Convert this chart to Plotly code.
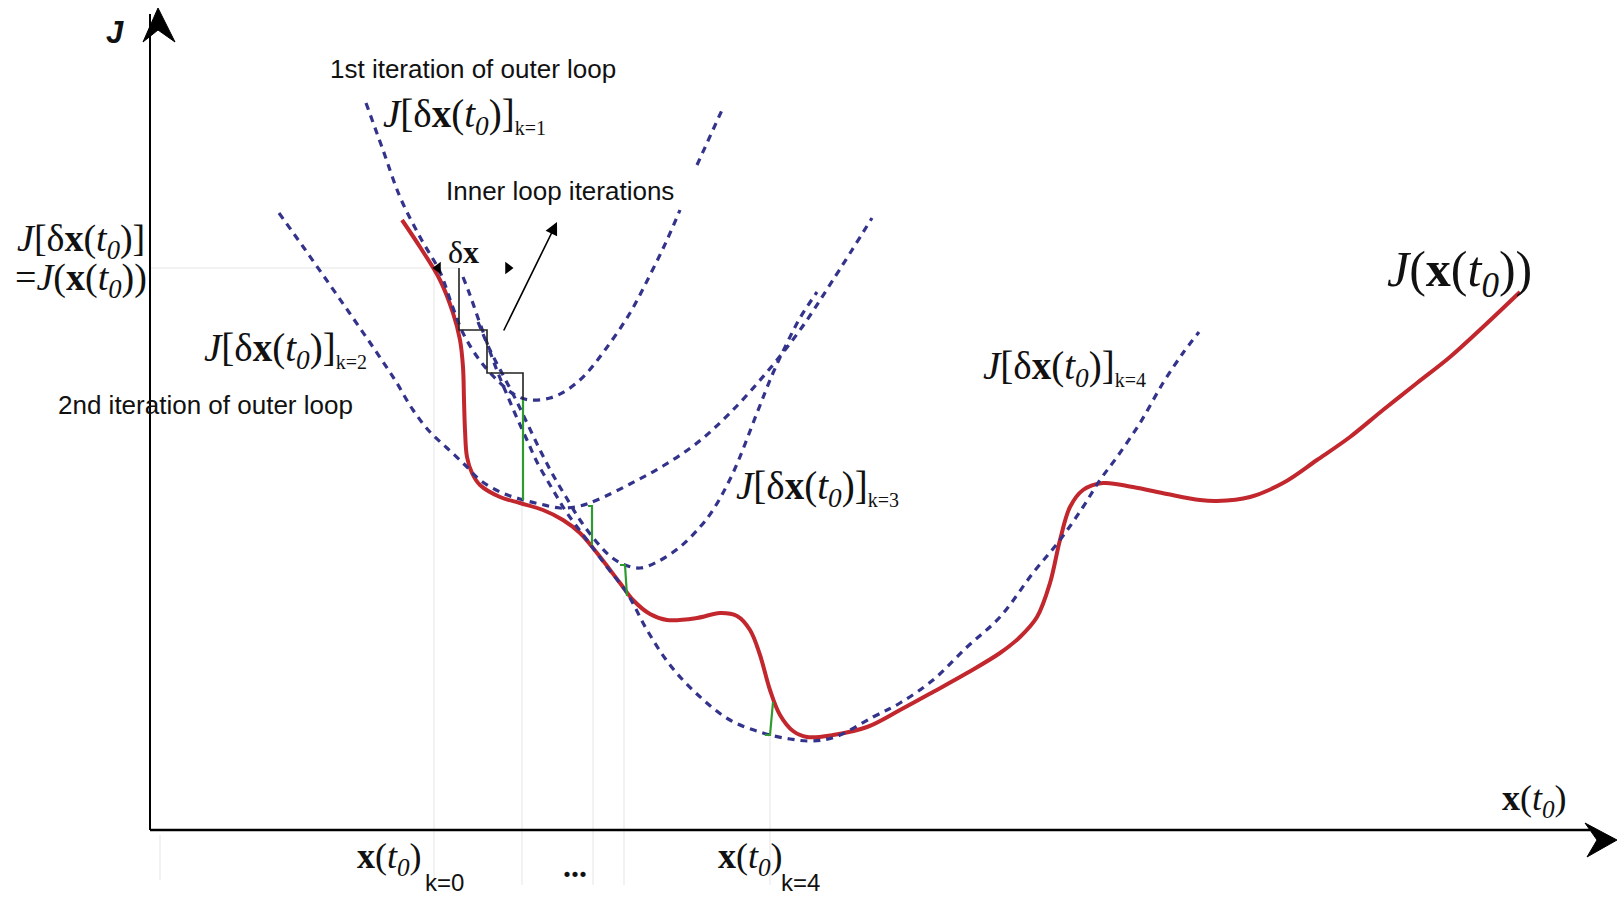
import plotly.graph_objects as go

# ---------------- data (diagram units: x = x(t0), J = cost) ----------------
# true cost function J(x(t0))
cost_x = [252, 270, 290, 303, 310, 313, 314, 315, 317, 322, 330, 350, 370, 393, 413, 430, 447, 470, 483,
          500, 517, 547, 570, 587, 600, 610, 620, 630, 643, 657, 683, 717, 750, 783, 817, 850, 870, 887,
          900, 910, 920, 933, 953, 983, 1017, 1050, 1067, 1100, 1133, 1167, 1200, 1233, 1267, 1300, 1333, 1370]
cost_J = [610, 583, 550, 517, 490, 463, 430, 400, 373, 357, 345, 333, 327, 320, 310, 297, 277, 247, 230,
          216, 210, 212, 217, 214, 200, 175, 140, 115, 99, 93, 95, 103, 120, 138, 157, 177, 193, 213,
          247, 290, 323, 340, 347, 343, 336, 330, 329, 333, 347, 370, 393, 420, 447, 473, 503, 538]

# quadratic approximations J[dx(t0)] for outer loop iterations k=1..4
k1_x = [216, 233, 250, 270, 290, 302, 313, 328, 347, 365, 380, 400, 417, 435, 455, 480, 500, 517, 530, None, 547, 572]
k1_J = [727, 680, 633, 593, 558, 525, 497, 472, 450, 435, 430, 432, 440, 455, 480, 517, 555, 590, 620, None, 665, 720]

k2_x = [129, 154, 180, 203, 225, 245, 263, 280, 297, 315, 330, 350, 370, 390, 410, 430, 447, 480, 513, 547, 580, 617, 650, 683, 722]
k2_J = [617, 582, 545, 512, 480, 450, 420, 398, 382, 365, 350, 338, 331, 326, 322, 324, 330, 346, 364, 387, 417, 458, 500, 550, 612]

k3_x = [328, 340, 353, 366, 378, 391, 403, 416, 430, 445, 460, 475, 490, 507, 530, 550, 563, 583, 607, 623, 637, 650, 667]
k3_J = [508, 480, 455, 430, 405, 378, 355, 333, 310, 290, 274, 265, 262, 268, 283, 303, 320, 357, 417, 457, 487, 512, 538]

k4_x = [313, 320, 328, 336, 343, 350, 358, 367, 377, 387, 403, 417, 437, 457, 477, 497, 520, 548, 580, 613, 640, 662,
        685, 723, 750, 783, 817, 850, 883, 910, 933, 950, 967, 990, 1013, 1033, 1049]
k4_J = [553, 535, 512, 490, 470, 452, 433, 412, 390, 368, 340, 317, 290, 263, 237, 200, 165, 135, 110, 97, 91, 89,
        93, 113, 127, 150, 183, 213, 257, 290, 323, 350, 373, 407, 447, 477, 498]

# inner-loop staircase and green increments
stair_x = [309, 309, 337, 337, 373, 373]
stair_J = [562, 500, 500, 457, 457, 430]
green_x = [373, 373, None, 438, 442, 442, None, 470, 475, 477, None, 615, 620, 623]
green_J = [430, 330, None, 324, 324, 285, None, 265, 265, 234, None, 95, 95, 128]

# faint guide lines
guide_x = [284, 284, None, 372, 372, None, 443, 443, None, 474, 474, None, 620, 620, None, 0, 309, None, 10, 10]
guide_J = [562, -55, None, 330, -55, None, 285, -55, None, 234, -55, None, 95, -55, None, 562, 562, None, -5, -50]

# axes
yaxis_x = [0, 0]
yaxis_J = [0, 816]
xaxis_x = [0, 1440]
xaxis_J = [0, 0]
yhead_x = [8, -7, 8, 25, 8]
yhead_J = [822, 788, 800, 788, 822]
xhead_x = [1467, 1435, 1447, 1437, 1467]
xhead_J = [-10, 7, -10, -27, -10]

BLUE = "#33338c"
RED = "#c1272d"
GREEN = "#2f9a2f"

fig = go.Figure()


def line(x, y, color, width, dash=None, shape="linear"):
    fig.add_trace(go.Scatter(x=x, y=y, mode="lines", hoverinfo="skip", showlegend=False,
                             line=dict(color=color, width=width, dash=dash, shape=shape)))


line(guide_x, guide_J, "#eeeeee", 1.5)
line(cost_x, cost_J, RED, 4, shape="spline")
for xs, js in [(k1_x, k1_J), (k2_x, k2_J), (k3_x, k3_J), (k4_x, k4_J)]:
    line(xs, js, BLUE, 3.2, dash="7px,6px", shape="spline")
line(green_x, green_J, GREEN, 2.2)
line(stair_x, stair_J, "#222222", 1.6)
line(yaxis_x, yaxis_J, "black", 2)
line(xaxis_x, xaxis_J, "black", 2.5)
for hx, hj in [(yhead_x, yhead_J), (xhead_x, xhead_J)]:
    fig.add_trace(go.Scatter(x=hx, y=hj, mode="lines", fill="toself", fillcolor="black",
                             line=dict(color="black", width=1), hoverinfo="skip", showlegend=False))

# delta-x arrowheads
fig.add_trace(go.Scatter(x=[288, 358], y=[562, 562], mode="markers", hoverinfo="skip", showlegend=False,
                         marker=dict(symbol=["triangle-left", "triangle-right"], size=11, color="black")))

SERIF = "Liberation Serif, Times New Roman, serif"
SANS = "Liberation Sans, Arial, sans-serif"
JDX = "<i>J</i>[δ<b>x</b>(<i>t</i><sub><i>0</i></sub>)]"


def ksub(k):
    return "<sub><span style='font-size:20px'>k=%d</span></sub>" % k


labels = [
    ("<b><i>J</i></b>", -35, 798, SANS, 31, "center"),
    ("1st iteration of outer loop", 178, 761, SANS, 26, "left"),
    (JDX + ksub(1), 231, 714, SERIF, 39, "left"),
    ("Inner loop iterations", 294, 639, SANS, 26, "left"),
    (JDX, -135, 589, SERIF, 38, "left"),
    ("=<i>J</i>(<b>x</b>(<i>t</i><sub><i>0</i></sub>))", -137, 550, SERIF, 38, "left"),
    (JDX + ksub(2), 52, 480, SERIF, 39, "left"),
    ("2nd iteration of outer loop", -94, 425, SANS, 26, "left"),
    (JDX + ksub(3), 584, 342, SERIF, 39, "left"),
    (JDX + ksub(4), 831, 462, SERIF, 39, "left"),
    ("<i>J</i>(<b>x</b>(<i>t</i><sub><i>0</i></sub>))", 1235, 557, SERIF, 50, "left"),
    ("<b>x</b>(<i>t</i><sub><i>0</i></sub>)", 1350, 30, SERIF, 36, "left"),
    ("δ<b>x</b>", 313, 578, SERIF, 32, "center"),
    ("<b>x</b>(<i>t</i><sub><i>0</i></sub>)", 205, -28, SERIF, 36, "left"),
    ("k=0", 273, -52, SANS, 24, "left"),
    ("<b>...</b>", 425, -36, SERIF, 32, "center"),
    ("<b>x</b>(<i>t</i><sub><i>0</i></sub>)", 566, -28, SERIF, 36, "left"),
    ("k=4", 629, -52, SANS, 24, "left"),
]
for text, x, y, fam, size, anchor in labels:
    fig.add_annotation(x=x, y=y, text=text, showarrow=False, xanchor=anchor, yanchor="middle",
                       font=dict(family=fam, size=size, color="#111111"))

# arrow pointing to inner loop iterations
fig.add_annotation(x=407, y=608, ax=353, ay=498, xref="x", yref="y", axref="x", ayref="y",
                   text="", showarrow=True, arrowhead=2, arrowsize=1.6, arrowwidth=1.6, arrowcolor="black")

fig.update_layout(
    width=1618, height=898, margin=dict(l=0, r=0, t=0, b=0),
    paper_bgcolor="white", plot_bgcolor="white",
    xaxis=dict(range=[-150, 1468], visible=False, fixedrange=True),
    yaxis=dict(range=[-68, 830], visible=False, fixedrange=True),
)
fig.write_html("out.html", config={"displayModeBar": False},
               post_script="document.body.style.margin='0px';document.body.style.overflow='hidden';")
